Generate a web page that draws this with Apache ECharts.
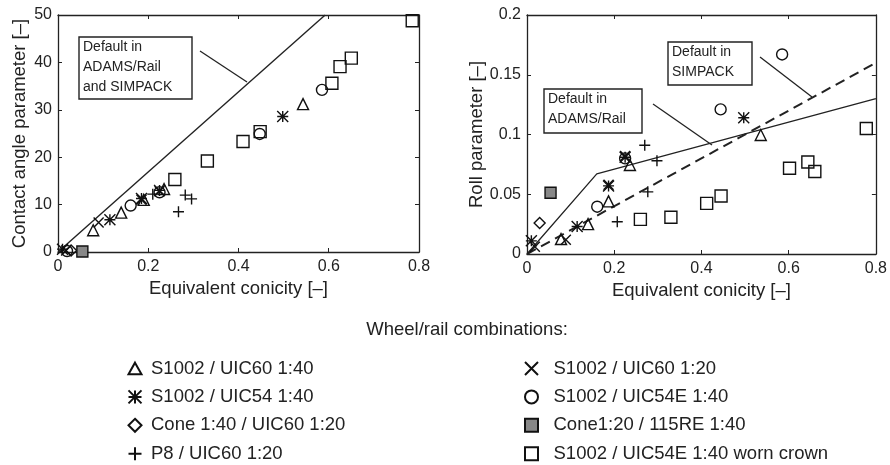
<!DOCTYPE html>
<html>
<head>
<meta charset="utf-8">
<script src="https://cdn.jsdelivr.net/npm/echarts@6/dist/echarts.min.js"></script>
<style>
  html, body { margin: 0; padding: 0; background: #fff; }
  #chart { width: 890px; height: 465px; }
</style>
</head>
<body>
<div id="chart"></div>
<script>
// tick values
const conicityTicks = [0, 0.2, 0.4, 0.6, 0.8];
const contactTicks = [0, 10, 20, 30, 40, 50];
const rollTicks = [0, 0.05, 0.1, 0.15, 0.2];

// combination names (legend)
const names = [
  'S1002 / UIC60 1:40',
  'S1002 / UIC54 1:40',
  'Cone 1:40 / UIC60 1:20',
  'P8 / UIC60 1:20',
  'S1002 / UIC60 1:20',
  'S1002 / UIC54E 1:40',
  'Cone1:20 / 115RE 1:40',
  'S1002 / UIC54E 1:40 worn crown'
];

// contact angle parameter vs conicity  [conicity, value]
const contactTri = [[0.078, 4.6], [0.14, 8.3], [0.19, 11.0], [0.235, 13.3], [0.543, 31.2]];
const contactStar = [[0.01, 0.6], [0.115, 6.8], [0.185, 11.3], [0.225, 13.0], [0.498, 28.6]];
const contactDiamond = [[0.029, 0.3]];
const contactPlus = [[0.21, 12.2], [0.267, 8.5], [0.282, 12.0], [0.296, 11.2]];
const contactX = [[0.018, 0.3], [0.09, 6.2], [0.185, 11.0], [0.225, 12.8]];
const contactCircle = [[0.02, 0.2], [0.161, 9.8], [0.225, 12.6], [0.447, 24.9], [0.585, 34.2]];
const contactFilled = [[0.054, 0.1]];
const contactWorn = [[0.259, 15.3], [0.331, 19.2], [0.41, 23.3], [0.448, 25.4], [0.607, 35.6], [0.625, 39.1], [0.65, 40.9], [0.785, 48.8]];
const contactDefault = [[0, 0], [0.592, 50]];

// roll parameter vs conicity
const rollTri = [[0.078, 0.0125], [0.14, 0.025], [0.187, 0.044], [0.236, 0.0745], [0.536, 0.0996]];
const rollStar = [[0.01, 0.011], [0.115, 0.023], [0.187, 0.057], [0.225, 0.081], [0.497, 0.114]];
const rollDiamond = [[0.029, 0.026]];
const rollPlus = [[0.207, 0.027], [0.27, 0.091], [0.277, 0.052], [0.298, 0.078]];
const rollX = [[0.018, 0.006], [0.089, 0.012], [0.187, 0.058], [0.225, 0.082]];
const rollCircle = [[0.161, 0.0396], [0.225, 0.08], [0.444, 0.121], [0.585, 0.167]];
const rollFilled = [[0.054, 0.0513]];
const rollWorn = [[0.26, 0.029], [0.33, 0.0307], [0.412, 0.0424], [0.445, 0.0485], [0.602, 0.0717], [0.644, 0.077], [0.66, 0.069], [0.778, 0.105]];
const rollAdams = [[0, 0], [0.16, 0.067], [0.8, 0.13]];
const rollSimpack = [[0, 0], [0.8, 0.16]];

const FONT = 'Liberation Sans, Arial, sans-serif';
const INK = '#222';

// marker styles, same order as names
const symbols = [
  { symbol: 'path://M5,0 L10,9 L0,9 Z', size: 11, fill: 'rgba(0,0,0,0)' },
  { symbol: 'path://M0,0 L10,10 M10,0 L0,10 M5,0 L5,10 M0,5 L10,5', size: 11, fill: 'rgba(0,0,0,0)' },
  { symbol: 'path://M5,0 L10,5 L5,10 L0,5 Z', size: 11, fill: 'rgba(0,0,0,0)' },
  { symbol: 'path://M5,0 L5,10 M0,5 L10,5', size: 11, fill: 'rgba(0,0,0,0)' },
  { symbol: 'path://M0,0 L10,10 M10,0 L0,10', size: 10, fill: 'rgba(0,0,0,0)' },
  { symbol: 'circle', size: 11, fill: 'rgba(0,0,0,0)' },
  { symbol: 'rect', size: 11, fill: '#888' },
  { symbol: 'rect', size: 12, fill: 'rgba(0,0,0,0)' }
];

const contactSets = [contactTri, contactStar, contactDiamond, contactPlus, contactX, contactCircle, contactFilled, contactWorn];
const rollSets = [rollTri, rollStar, rollDiamond, rollPlus, rollX, rollCircle, rollFilled, rollWorn];

const scatter = (i, data, xi, yi) => ({
  name: names[i],
  type: 'scatter',
  xAxisIndex: xi,
  yAxisIndex: yi,
  data: data,
  symbol: symbols[i].symbol,
  symbolSize: symbols[i].size,
  clip: false,
  itemStyle: { color: symbols[i].fill, borderColor: '#111', borderWidth: 1.4, opacity: 1 },
  emphasis: { disabled: true },
  z: 3
});

const lineSeries = (data, xi, yi, type, width) => ({
  type: 'line',
  xAxisIndex: xi,
  yAxisIndex: yi,
  data: data,
  symbol: 'none',
  lineStyle: { color: INK, width: width, type: type },
  silent: true,
  z: 2
});

const mainX = (grid, name) => ({
  gridIndex: grid, type: 'value', min: 0, max: 0.8, interval: 0.2,
  name: name, nameLocation: 'middle', nameGap: 25,
  nameTextStyle: { fontFamily: FONT, fontSize: 18.5, color: INK },
  axisLine: { show: true, lineStyle: { color: INK, width: 1.3 } },
  axisTick: { show: true, inside: true, length: 4, lineStyle: { color: INK } },
  axisLabel: { fontFamily: FONT, fontSize: 16, color: INK, margin: 7, showMaxLabel: true },
  splitLine: { show: false }
});
const mirrorX = (grid) => ({
  gridIndex: grid, type: 'value', min: 0, max: 0.8, interval: 0.2, position: 'top',
  axisLine: { show: true, onZero: false, lineStyle: { color: INK, width: 1.3 } },
  axisTick: { show: true, inside: true, length: 4, lineStyle: { color: INK } },
  axisLabel: { show: false }, splitLine: { show: false }
});
const mainY = (grid, min, max, interval, name, gap) => ({
  gridIndex: grid, type: 'value', min: min, max: max, interval: interval,
  name: name, nameLocation: 'middle', nameGap: gap,
  nameTextStyle: { fontFamily: FONT, fontSize: 18.5, color: INK },
  axisLine: { show: true, lineStyle: { color: INK, width: 1.3 } },
  axisTick: { show: true, inside: true, length: 4, lineStyle: { color: INK } },
  axisLabel: { fontFamily: FONT, fontSize: 16, color: INK, margin: 6 },
  splitLine: { show: false }
});
const mirrorY = (grid, min, max, interval) => ({
  gridIndex: grid, type: 'value', min: min, max: max, interval: interval, position: 'right',
  axisLine: { show: true, onZero: false, lineStyle: { color: INK, width: 1.3 } },
  axisTick: { show: true, inside: true, length: 4, lineStyle: { color: INK } },
  axisLabel: { show: false }, splitLine: { show: false }
});

const series = [];
contactSets.forEach((d, i) => series.push(scatter(i, d, 0, 0)));
rollSets.forEach((d, i) => series.push(scatter(i, d, 2, 2)));
series.push(lineSeries(contactDefault, 0, 0, 'solid', 1.4));
series.push(lineSeries(rollAdams, 2, 2, 'solid', 1.3));
series.push(lineSeries(rollSimpack, 2, 2, [10, 6], 2));

const legendBase = (left, textPad, data) => ({
  orient: 'vertical', left: left, top: 358.5, padding: 0,
  itemWidth: 13, itemHeight: 13, itemGap: 8.4,
  selectedMode: false, data: data,
  textStyle: { fontFamily: FONT, fontSize: 18.5, color: INK, lineHeight: 20, padding: [0, 0, 0, textPad] }
});

// annotation boxes (pixel layout)
const box = (x, y, w, h, lines) => ({
  type: 'group',
  children: [
    { type: 'rect', shape: { x: x, y: y, width: w, height: h },
      style: { fill: '#fff', stroke: INK, lineWidth: 1.4 }, z: 10 },
    { type: 'text', x: x + 4, y: y + 0.5, z: 11,
      style: { text: lines.join('\n'), font: '14px ' + FONT, fill: INK, lineHeight: 20 } }
  ]
});
const pointer = (x1, y1, x2, y2) => ({
  type: 'line', shape: { x1: x1, y1: y1, x2: x2, y2: y2 },
  style: { stroke: INK, lineWidth: 1.3 }, z: 10
});

const chart = echarts.init(document.getElementById('chart'));
chart.setOption({
  animation: false,
  backgroundColor: '#fff',
  grid: [
    { left: 58, right: 471, top: 15, bottom: 213 },
    { left: 527, right: 8, top: 15, bottom: 211 }
  ],
  xAxis: [
    mainX(0, 'Equivalent conicity [\u2013]'), mirrorX(0),
    mainX(1, 'Equivalent conicity [\u2013]'), mirrorX(1)
  ],
  yAxis: [
    mainY(0, 0, 50, 10, 'Contact angle parameter [\u2013]', 29), mirrorY(0, 0, 50, 10),
    mainY(1, 0, 0.2, 0.05, 'Roll parameter [\u2013]', 41), mirrorY(1, 0, 0.2, 0.05)
  ],
  legend: [
    legendBase(127.5, 4.5, names.slice(0, 4)),
    legendBase(524, 10.5, names.slice(4))
  ],
  graphic: [
    { type: 'text', x: 467, y: 330, style: { text: 'Wheel/rail combinations:', font: '18.5px ' + FONT, fill: INK, align: 'center', verticalAlign: 'middle' } },
    box(79, 37, 113, 62, ['Default in', 'ADAMS/Rail', 'and SIMPACK']),
    pointer(200, 51, 247, 82),
    box(668, 42, 84, 43, ['Default in', 'SIMPACK']),
    pointer(760, 57, 812, 97),
    box(544, 89, 98, 44, ['Default in', 'ADAMS/Rail']),
    pointer(653, 104, 712, 145)
  ],
  series: series
});
</script>
</body>
</html>
